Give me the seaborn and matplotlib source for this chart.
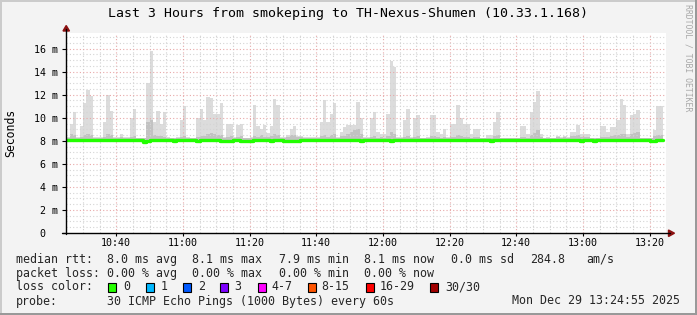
import numpy as np
import pandas as pd
import matplotlib
matplotlib.use("Agg")
import matplotlib.pyplot as plt
from matplotlib.lines import Line2D
from matplotlib.patches import Rectangle, Polygon
import seaborn as sns

# ---------------- data ----------------
start_min = 24 + 55 / 60          # 10:24:55 in minutes after 10:00
end_min = 204 + 55 / 60           # 13:24:55
first_step = 25                   # first 60s step (10:25)

smoke_max = [
    8.3, 9.5, 10.5, 8.3, 9.3, 11.3, 12.4, 11.9, 8.3, 8.3,
    8.3, 9.6, 12.0, 10.6, 8.3, 8.3, 8.6, 8.3, 8.3, 10.0,
    10.8, 8.2, 8.2, 8.2, 13.0, 15.8, 9.6, 10.6, 9.5, 10.5,
    8.3, 8.2, 8.2, 8.3, 9.8, 11.0, 8.3, 8.2, 8.2, 10.0,
    10.8, 9.8, 11.8, 11.7, 10.3, 10.3, 11.3, 8.3, 9.5, 9.5,
    8.3, 9.4, 9.5, 8.2, 8.2, 8.3, 11.1, 9.3, 9.0, 9.4,
    8.7, 9.3, 11.6, 11.1, 8.3, 8.3, 8.5, 9.0, 9.3, 8.4,
    8.4, 8.3, 8.3, 8.3, 8.3, 8.3, 9.6, 11.5, 9.6, 10.3,
    11.3, 8.3, 8.8, 9.2, 9.4, 9.4, 9.4, 11.4, 10.0, 8.3,
    8.3, 10.0, 10.5, 8.8, 8.6, 8.6, 10.3, 14.9, 14.4, 8.3,
    8.3, 9.8, 10.8, 8.3, 10.0, 10.2, 8.2, 8.2, 8.3, 10.2,
    10.2, 8.8, 8.6, 9.0, 8.3, 9.5, 9.5, 11.1, 10.0, 9.5,
    9.5, 8.6, 9.0, 9.0, 8.2, 8.2, 8.5, 8.5, 9.6, 10.5,
    8.2, 8.2, 8.2, 8.2, 8.2, 8.2, 9.3, 9.3, 8.6, 10.5,
    11.4, 12.3, 8.6, 8.2, 8.3, 8.2, 8.2, 8.4, 8.3, 8.4,
    8.3, 8.8, 8.8, 9.4, 8.6, 8.6, 8.6, 8.2, 8.2, 8.2,
    9.3, 9.3, 8.8, 9.2, 9.2, 9.8, 11.6, 11.1, 8.6, 10.2,
    10.3, 10.7, 8.2, 8.2, 8.2, 8.2, 8.9, 11.0, 11.0,
]

smoke_inner = [
    8.2, 8.6, 8.5, 8.2, 8.3, 8.5, 8.6, 8.5, 8.2, 8.2,
    8.2, 8.3, 8.6, 8.5, 8.2, 8.2, 8.3, 8.2, 8.2, 8.3,
    8.4, 8.2, 8.2, 8.2, 9.6, 9.8, 8.5, 8.4, 8.4, 8.3,
    8.2, 8.2, 8.2, 8.2, 8.3, 8.4, 8.2, 8.2, 8.2, 8.3,
    8.4, 8.4, 8.6, 8.7, 8.6, 8.5, 8.5, 8.2, 8.3, 8.4,
    8.2, 8.3, 8.4, 8.2, 8.2, 8.2, 8.4, 8.3, 8.5, 8.3,
    8.3, 8.4, 8.6, 8.5, 8.2, 8.2, 8.3, 8.5, 8.5, 8.3,
    8.3, 8.2, 8.2, 8.2, 8.2, 8.2, 8.4, 8.5, 8.3, 8.5,
    8.6, 8.2, 8.4, 8.4, 8.6, 8.8, 8.9, 9.0, 8.6, 8.2,
    8.2, 8.3, 8.4, 8.2, 8.3, 8.2, 8.4, 8.8, 8.6, 8.2,
    8.2, 8.3, 8.4, 8.2, 8.3, 8.4, 8.2, 8.2, 8.2, 8.4,
    8.4, 8.3, 8.2, 8.3, 8.2, 8.3, 8.3, 8.5, 8.4, 8.3,
    8.3, 8.2, 8.3, 8.3, 8.2, 8.2, 8.2, 8.2, 8.4, 8.5,
    8.2, 8.2, 8.2, 8.2, 8.2, 8.2, 8.3, 8.3, 8.2, 8.5,
    8.7, 8.9, 8.3, 8.2, 8.2, 8.2, 8.2, 8.3, 8.2, 8.3,
    8.2, 8.4, 8.4, 8.5, 8.3, 8.3, 8.3, 8.2, 8.2, 8.2,
    8.3, 8.3, 8.3, 8.4, 8.5, 8.5, 8.6, 8.6, 8.3, 8.6,
    8.7, 8.8, 8.2, 8.2, 8.2, 8.2, 8.4, 8.5, 8.5,
]

smoke_min = 7.88

median_rtt = [
    8.03, 8.03, 8.08, 8.08, 8.03, 8.03, 8.03, 8.03, 8.03, 8.03,
    8.03, 8.03, 8.03, 8.03, 8.03, 8.06, 8.06, 8.03, 8.03, 8.03,
    8.08, 8.03, 8.03, 7.93, 7.95, 8.03, 8.03, 8.03, 8.03, 8.03,
    8.03, 8.03, 7.94, 8.03, 8.03, 8.03, 8.03, 8.03, 8.03, 7.94,
    8.03, 8.03, 8.03, 8.03, 8.03, 8.03, 7.95, 7.95, 7.95, 7.96,
    8.03, 8.03, 7.95, 7.95, 7.95, 7.96, 8.03, 8.03, 8.07, 8.03,
    8.03, 7.94, 8.03, 8.03, 8.03, 7.95, 7.95, 7.96, 7.95, 7.94,
    8.03, 8.06, 8.06, 8.06, 8.06, 8.06, 8.06, 8.06, 8.06, 8.06,
    8.06, 8.03, 8.03, 8.03, 8.03, 8.03, 8.03, 8.03, 7.95, 8.03,
    8.03, 8.03, 8.03, 8.03, 8.03, 8.03, 8.03, 7.96, 8.03, 8.03,
    8.03, 8.03, 8.03, 8.03, 8.03, 8.03, 8.03, 8.03, 8.03, 8.03,
    8.03, 8.03, 8.03, 8.03, 8.03, 8.03, 8.03, 8.03, 8.03, 8.03,
    8.03, 8.03, 8.03, 8.03, 8.03, 8.03, 8.03, 7.94, 8.03, 8.03,
    8.03, 8.03, 8.05, 8.05, 8.05, 8.03, 8.03, 8.03, 8.03, 8.03,
    8.03, 8.03, 8.03, 8.03, 8.03, 8.03, 8.06, 8.06, 8.03, 8.03,
    8.03, 8.03, 8.03, 8.03, 7.94, 8.03, 8.03, 8.03, 7.94, 8.03,
    8.03, 8.03, 8.03, 8.03, 8.03, 8.03, 8.03, 8.03, 8.03, 8.03,
    8.03, 8.03, 8.03, 8.03, 8.03, 7.94, 7.94, 8.03, 8.03,
]

y_ticks = [0, 2, 4, 6, 8, 10, 12, 14, 16]
y_labels = ["0  ", "2 m", "4 m", "6 m", "8 m", "10 m", "12 m", "14 m", "16 m"]
x_ticks = [40, 60, 80, 100, 120, 140, 160, 180, 200]
x_labels = ["10:40", "11:00", "11:20", "11:40", "12:00", "12:20", "12:40", "13:00", "13:20"]

loss_labels = ["0", "1", "2", "3", "4-7", "8-15", "16-29", "30/30"]
loss_colors = ["#26ff00", "#00b8ff", "#0059ff", "#7e00ff", "#ff00ff", "#ff5500", "#ff0000", "#a10000"]

stats_rtt = ["8.0 ms avg", "8.1 ms max", "7.9 ms min", "8.1 ms now", "0.0 ms sd", "284.8", "am/s"]
stats_loss = ["0.00 % avg", "0.00 % max", "0.00 % min", "0.00 % now"]

title = "Last 3 Hours from smokeping to TH-Nexus-Shumen (10.33.1.168)"
probe_text = "30 ICMP Echo Pings (1000 Bytes) every 60s"
stamp = "Mon Dec 29 13:24:55 2025"

# ---------------- figure ----------------
sns.set_theme(style="white")
plt.rcParams['font.family'] = ['DejaVu Sans Mono', 'DejaVu Sans']

W, H = 697, 315
fig = plt.figure(figsize=(W / 100, H / 100), dpi=100)
fig.patch.set_facecolor('#f3f3f3')

def fx(x):
    return x / W

def fy(y):
    return 1 - y / H

PL, PR, PT, PB = 66, 666, 33, 233
ax = fig.add_axes([fx(PL), fy(PB), (PR - PL) / W, (PB - PT) / H])
ax.set_facecolor('white')
ymax = (PB - PT) / 11.525
ax.set_xlim(start_min, end_min)
ax.set_ylim(0, ymax)
for s in ax.spines.values():
    s.set_visible(False)

n = len(smoke_max)
df = pd.DataFrame({
    "t": first_step + np.arange(n),
    "max": smoke_max,
    "inner": smoke_inner,
    "median": median_rtt,
})

# smoke
ax.bar(df["t"], df["max"] - smoke_min, bottom=smoke_min, width=1.0, align='edge',
       color='#dcdcdc', linewidth=0, zorder=1)
ax.bar(df["t"], df["inner"] - smoke_min, bottom=smoke_min, width=1.0, align='edge',
       color='#c2c2c2', linewidth=0, zorder=1.5)

# grid
minor_x = np.arange(25, 205, 5)
for xv in minor_x:
    if xv in x_ticks:
        ax.axvline(xv, color='#e8a8a8', lw=0.8, ls=(0, (1, 2)), zorder=3)
    else:
        ax.axvline(xv, color='#cfcfcf', lw=0.8, ls=(0, (1, 2)), zorder=3)
for yv in np.arange(0.5, ymax, 0.5):
    if abs(yv / 2 - round(yv / 2)) < 1e-6:
        ax.axhline(yv, color='#e8a8a8', lw=0.8, ls=(0, (1, 2)), zorder=3)
    else:
        ax.axhline(yv, color='#d4d4d4', lw=0.8, ls=(0, (1, 2)), zorder=3)

# median line (steps)
line_df = pd.concat([df[["t", "median"]],
                     pd.DataFrame({"t": [df["t"].iloc[-1] + 1], "median": [df["median"].iloc[-1]]})],
                    ignore_index=True)
sns.lineplot(data=line_df, x="t", y="median", ax=ax, color='#22ff00', lw=2.4,
             drawstyle='steps-post', zorder=5)
ax.set_xlabel("")
ax.set_ylabel("")

# ticks
ax.set_yticks(y_ticks)
ax.set_yticklabels(y_labels, fontsize=7.2, color='black')
ax.set_xticks(x_ticks)
ax.set_xticklabels(x_labels, fontsize=7.2, color='black')
ax.tick_params(axis='y', length=3, width=0.8, color='black', direction='out', pad=2.6, left=True)
ax.tick_params(axis='x', length=2, width=0.8, color='black', direction='out', pad=1.3, bottom=True)

# axes lines with arrows
fig.add_artist(Line2D([fx(PL), fx(PL)], [fy(PB + 1), fy(29)], color='black', lw=1.0))
fig.add_artist(Line2D([fx(62), fx(670)], [fy(PB), fy(PB)], color='black', lw=1.0))
fig.add_artist(Polygon([[fx(63), fy(31)], [fx(69.5), fy(31)], [fx(66.2), fy(25.5)]],
                       closed=True, color='#8b1010', transform=fig.transFigure))
fig.add_artist(Polygon([[fx(668.5), fy(230)], [fx(668.5), fy(236.5)], [fx(674.5), fy(233.2)]],
                       closed=True, color='#8b1010', transform=fig.transFigure))

# frame shading
fig.add_artist(Rectangle((0, fy(2)), 1, 2 / H, transform=fig.transFigure, color='#cbcbcb', lw=0))
fig.add_artist(Rectangle((0, 0), 2 / W, 1, transform=fig.transFigure, color='#cbcbcb', lw=0))
fig.add_artist(Rectangle((0, 0), 1, 2 / H, transform=fig.transFigure, color='#999999', lw=0))
fig.add_artist(Rectangle((1 - 2 / W, 0), 2 / W, 1, transform=fig.transFigure, color='#999999', lw=0))

# title & labels
fig.text(fx(348), fy(13.5), title, fontsize=9.55, ha='center', va='center', color='black')
fig.text(fx(11), fy(133), "Seconds", fontsize=8.3, rotation=90, ha='center', va='center', color='black')
fig.text(fx(688), fy(4), "RRDTOOL / TOBI OETIKER", fontsize=5.9, rotation=270,
         ha='center', va='top', color='#a8a8a8')

# legend area
FS = 8.35
r1, r2, r3, r4 = 259.5, 273.5, 287.0, 301.0
fig.text(fx(16), fy(r1), "median rtt:", fontsize=FS, va='center', ha='left')
for xp, s in zip([107, 192.5, 279, 364.5, 451, 530, 586], stats_rtt):
    fig.text(fx(xp), fy(r1), s, fontsize=FS, va='center', ha='left')
fig.text(fx(16), fy(r2), "packet loss:", fontsize=FS, va='center', ha='left')
for xp, s in zip([107, 192.5, 279, 364.5], stats_loss):
    fig.text(fx(xp), fy(r2), s, fontsize=FS, va='center', ha='left')
fig.text(fx(16), fy(r3), "loss color:", fontsize=FS, va='center', ha='left')
sq_x = [108.3, 145.7, 183.0, 220.3, 257.7, 307.5, 365.5, 430.0]
lab_x = [123.3, 160.7, 197.7, 234.3, 271.7, 321.7, 380.0, 445.0]
for sx, lx, lab, col in zip(sq_x, lab_x, loss_labels, loss_colors):
    fig.add_artist(Rectangle((fx(sx), fy(r3 + 4.5)), 8 / W, 9 / H, transform=fig.transFigure,
                             facecolor=col, edgecolor='black', lw=0.8))
    fig.text(fx(lx), fy(r3), lab, fontsize=FS, va='center', ha='left')
fig.text(fx(16), fy(r4), "probe:", fontsize=FS, va='center', ha='left')
fig.text(fx(107), fy(r4), probe_text, fontsize=FS, va='center', ha='left')
fig.text(fx(680.5), fy(r4), stamp, fontsize=FS, va='center', ha='right')

fig.savefig("out.png", dpi=100, facecolor=fig.get_facecolor())
